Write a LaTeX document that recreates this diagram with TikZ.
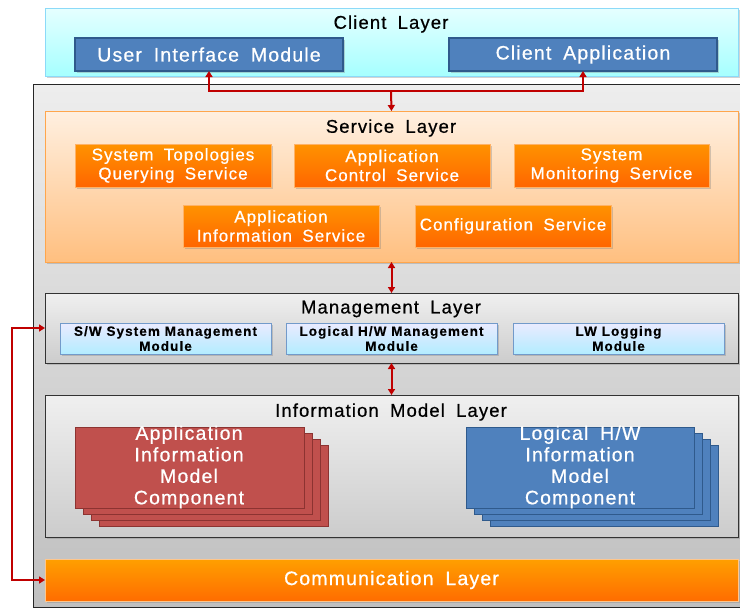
\documentclass[tikz,border=0pt]{standalone}
\usepackage{fontspec}
\setmainfont{Liberation Sans}[LetterSpace=6,WordSpace=1.8,FakeBold=0.6]
\newfontfamily\modfont{Liberation Sans}[LetterSpace=8,FakeBold=0.3]
\usetikzlibrary{arrows.meta,shadows}
\definecolor{arrred}{HTML}{C00000}
\definecolor{modblue}{HTML}{4F81BD}
\definecolor{modblueline}{HTML}{2F5A8C}
\definecolor{stackred}{HTML}{C0504D}
\definecolor{stackredline}{HTML}{8C3331}
\begin{document}
\begin{tikzpicture}[x=1pt,y=-1pt,
  box/.style={anchor=north west,inner sep=0pt,outer sep=0pt},
  shade/.style={drop shadow={shadow xshift=1.5pt,shadow yshift=-1.5pt,opacity=0.35}},
  layer/.style={box,draw=black!80,line width=1pt,top color=black!6,bottom color=black!20},
  title/.style={font=\fontsize{18.5}{21}\selectfont,text=black},
  bluemod/.style={box,shade,draw=modblueline,line width=1.2pt,fill=modblue,text=white,
    font=\fontsize{19.5}{22}\selectfont},
  svcbox/.style={box,shade,draw=orange!60,line width=0.8pt,top color=orange!85!yellow,
    bottom color=orange!80!red,text=white,align=center,
    font=\fontsize{17}{19}\selectfont},
  mgmtmod/.style={box,shade,draw=modblue!80,line width=0.9pt,top color=blue!8,
    bottom color=blue!25!cyan!30,text=black,align=center,
    font=\modfont\bfseries\fontsize{13.5}{15}\selectfont},
  redcard/.style={box,draw=stackredline,line width=1pt,fill=stackred},
  bluecard/.style={box,draw=modblueline,line width=1pt,fill=modblue},
  cardtext/.style={text=white,align=center,font=\fontsize{19.5}{21.5}\selectfont},
  link/.style={draw=arrred,line width=2pt},
  tips/.style={{Triangle[length=6pt,width=7pt]}-{Triangle[length=6pt,width=7pt]}},
  tip/.style={-{Triangle[length=6pt,width=7pt]}}
]
\useasboundingbox (0,0) rectangle (740,608);

% grey enclosure of the lower layers
\node[box,draw=black!85,line width=1pt,top color=black!7,bottom color=black!25,
  minimum width=712pt,minimum height=523pt] (outer) at (33,84) {};

% client layer
\node[box,shade,draw=cyan!45,line width=0.8pt,top color=cyan!10,bottom color=cyan!35,
  minimum width=693pt,minimum height=68pt] (client) at (45,8) {};
\node[title] (clienttitle) at (391,24) {Client Layer};
\node[bluemod,minimum width=268pt,minimum height=33pt] (ui) at (75,38) {User Interface Module};
\node[bluemod,minimum width=268pt,minimum height=33pt] (ca) at (449,38) {Client Application};

% service layer
\node[box,shade,draw=orange!70,line width=0.8pt,top color=orange!12,bottom color=orange!50,
  minimum width=693pt,minimum height=151pt] (svc) at (45,111) {};
\node[title] (svctitle) at (391,128) {Service Layer};
\node[svcbox,minimum width=196pt,minimum height=43pt] (s1) at (75,144) {System Topologies\\Querying Service};
\node[svcbox,minimum width=196pt,minimum height=43pt] (s2) at (294,144) {Application\\Control Service};
\node[svcbox,minimum width=195pt,minimum height=43pt] (s3) at (514,144) {System\\Monitoring Service};
\node[svcbox,minimum width=196pt,minimum height=42pt] (s4) at (183,205) {Application\\Information Service};
\node[svcbox,minimum width=196pt,minimum height=42pt] (s5) at (415,205) {Configuration Service};

% management layer
\node[layer,shade,minimum width=693pt,minimum height=70pt] (mgmt) at (45,293) {};
\node[title] (mgmttitle) at (391,309) {Management Layer};
\node[mgmtmod,minimum width=211pt,minimum height=31pt] (m1) at (60,323) {S/W System Management\\Module};
\node[mgmtmod,minimum width=211pt,minimum height=31pt] (m2) at (286,323) {Logical H/W Management\\Module};
\node[mgmtmod,minimum width=211pt,minimum height=31pt] (m3) at (513,323) {LW Logging\\Module};

% information model layer
\node[layer,shade,minimum width=693pt,minimum height=142pt] (info) at (45,395) {};
\node[title] (infotitle) at (391,412) {Information Model Layer};
\node[redcard,minimum width=229pt,minimum height=81pt] (r4) at (99,445) {};
\node[redcard,minimum width=229pt,minimum height=81pt] (r3) at (91,439) {};
\node[redcard,minimum width=229pt,minimum height=81pt] (r2) at (83,433) {};
\node[redcard,minimum width=229pt,minimum height=81pt] (r1) at (75,427) {};
\node[cardtext] (rtext) at (189,467) {Application\\Information\\Model\\Component};
\node[bluecard,minimum width=228pt,minimum height=81pt] (b4) at (490,445) {};
\node[bluecard,minimum width=228pt,minimum height=81pt] (b3) at (482,439) {};
\node[bluecard,minimum width=228pt,minimum height=81pt] (b2) at (474,433) {};
\node[bluecard,minimum width=228pt,minimum height=81pt] (b1) at (466,427) {};
\node[cardtext] (btext) at (580,467) {Logical H/W\\Information\\Model\\Component};

% communication layer
\node[box,shade,draw=orange!45,line width=0.8pt,top color=orange!75!yellow,bottom color=orange!85!red,
  minimum width=693pt,minimum height=42pt,text=white,font=\fontsize{19.5}{22}\selectfont]
  (comm) at (45,559) {Communication Layer};

% connectors
\coordinate (bus) at (391,91);
\coordinate (lft) at (12,0);
\draw[link,tips] (ui.south) -- (ui.south |- bus) -- (ca.south |- bus) -- (ca.south);
\draw[link,tip] (bus) -- (svc.north);
\draw[link,tips] (svc.south) -- (mgmt.north);
\draw[link,tips] (mgmt.south) -- (info.north);
\draw[link,tips] (mgmt.west) -- (mgmt.west -| lft) -- (comm.west -| lft) -- (comm.west);
\end{tikzpicture}
\end{document}
